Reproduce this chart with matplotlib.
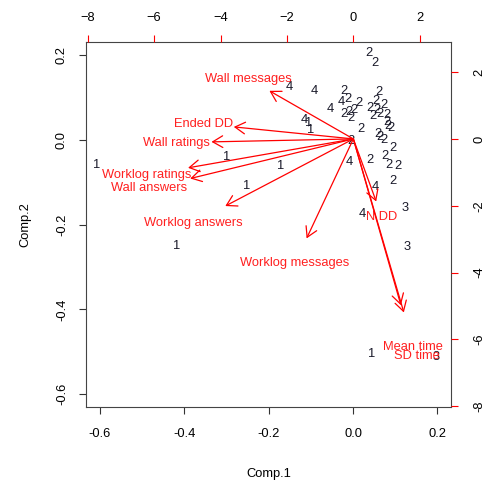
import numpy as np
import matplotlib.pyplot as plt

plt.rcParams['font.family'] = ['Liberation Sans', 'DejaVu Sans']

# scores (Comp.1, Comp.2) and the group label of each observation
score_lab = ['2', '2', '4', '4', '2', '2', '4', '2', '2', '2',
             '2', '4', '2', '2', '2', '2', '2', '2', '2', '2',
             '2', '2', '2', '2', '4', '1', '1', '2', '2', '2',
             '2', '2', '2', '2', '2', '2', '4', '2', '4', '4',
             '3', '3', '3', '1', '1', '1', '1', '1', '1', '2']
score_x = [0.038, 0.052, -0.150, -0.091, -0.022, 0.061, -0.028, -0.013, 0.014, 0.054,
           0.073, -0.055, -0.022, -0.010, 0.002, -0.004, 0.041, 0.046, 0.057, 0.063,
           0.079, 0.081, 0.082, 0.089, -0.115, -0.105, -0.100, 0.018, 0.059, 0.063,
           0.073, 0.095, 0.075, 0.085, 0.107, 0.040, -0.010, 0.094, 0.053, 0.021,
           0.123, 0.128, 0.196, 0.044, -0.609, -0.300, -0.172, -0.252, -0.419, -0.006]
score_y = [0.205, 0.182, 0.126, 0.116, 0.116, 0.113, 0.090, 0.096, 0.087, 0.093,
           0.083, 0.072, 0.061, 0.067, 0.071, 0.051, 0.075, 0.057, 0.071, 0.061,
           0.059, 0.043, 0.033, 0.028, 0.047, 0.039, 0.024, 0.025, 0.013, 0.008,
           0.000, -0.020, -0.039, -0.059, -0.061, -0.047, -0.051, -0.098, -0.110, -0.175,
           -0.161, -0.253, -0.512, -0.505, -0.059, -0.040, -0.061, -0.109, -0.250, -0.002]

# loadings (top / right scale)
load_names = ['Wall messages', 'Ended DD', 'Wall ratings', 'Worklog ratings',
              'Wall answers', 'Worklog answers', 'Worklog messages', 'N DD',
              'Mean time', 'SD time']
load_x = [-3.16, -4.50, -5.34, -6.22, -6.14, -4.82, -1.76, 0.86, 1.79, 1.90]
load_y = [1.80, 0.45, -0.11, -1.08, -1.48, -2.51, -3.72, -2.34, -6.22, -6.49]

fig = plt.figure(figsize=(4.92, 4.86), dpi=100)
rect = [86 / 492, 1 - 407 / 486, 365 / 492, 365 / 486]
ax = fig.add_axes(rect)
fs = 9.3

for lab, x, y in zip(score_lab, score_x, score_y):
    ax.text(x, y, lab, ha='center', va='center', fontsize=fs, color='#1a1a2a')
ax.set_xlim(-0.633, 0.232)
ax.set_ylim(-0.630, 0.231)
ax.set_xticks([-0.6, -0.4, -0.2, 0.0, 0.2])
ax.set_yticks([-0.6, -0.4, -0.2, 0.0, 0.2])
ax.set_xticklabels(['-0.6', '-0.4', '-0.2', '0.0', '0.2'])
ax.set_yticklabels(['-0.6', '-0.4', '-0.2', '0.0', '0.2'], rotation=90, va='center')
ax.tick_params(length=5, width=0.8, color='#333333', labelsize=fs)
ax.tick_params(axis='x', pad=10)
ax.tick_params(axis='y', pad=8)
ax.set_xlabel('Comp.1', fontsize=fs, labelpad=20)
ax.set_ylabel('Comp.2', fontsize=fs, labelpad=18)
for s in ax.spines.values():
    s.set_color('#444444')
    s.set_linewidth(0.8)

ax2 = fig.add_axes(rect)
ax2.patch.set_visible(False)
for s in ax2.spines.values():
    s.set_visible(False)
ax2.set_xlim(-8.05, 2.94)
ax2.set_ylim(-8.02, 2.90)
ax2.xaxis.tick_top()
ax2.yaxis.tick_right()
ax2.set_xticks([-8, -6, -4, -2, 0, 2])
ax2.set_yticks([-8, -6, -4, -2, 0, 2])
ax2.set_yticklabels(['-8', '-6', '-4', '-2', '0', '2'], rotation=90, va='center')
ax2.tick_params(length=5, width=0.8, color='red', labelcolor='black', labelsize=fs)
ax2.tick_params(axis='x', pad=8)
ax2.tick_params(axis='y', pad=11)

for name, x, y in zip(load_names, load_x, load_y):
    ax2.annotate('', xy=(0.8 * x, 0.8 * y), xytext=(0, 0),
                 arrowprops=dict(arrowstyle='->,head_length=0.72,head_width=0.42',
                                 color='red', lw=0.9, mutation_scale=10,
                                 shrinkA=0, shrinkB=0))
    ax2.text(x, y, name, ha='center', va='center', fontsize=fs, color='#ff2020')

fig.savefig('out.png', dpi=100)
